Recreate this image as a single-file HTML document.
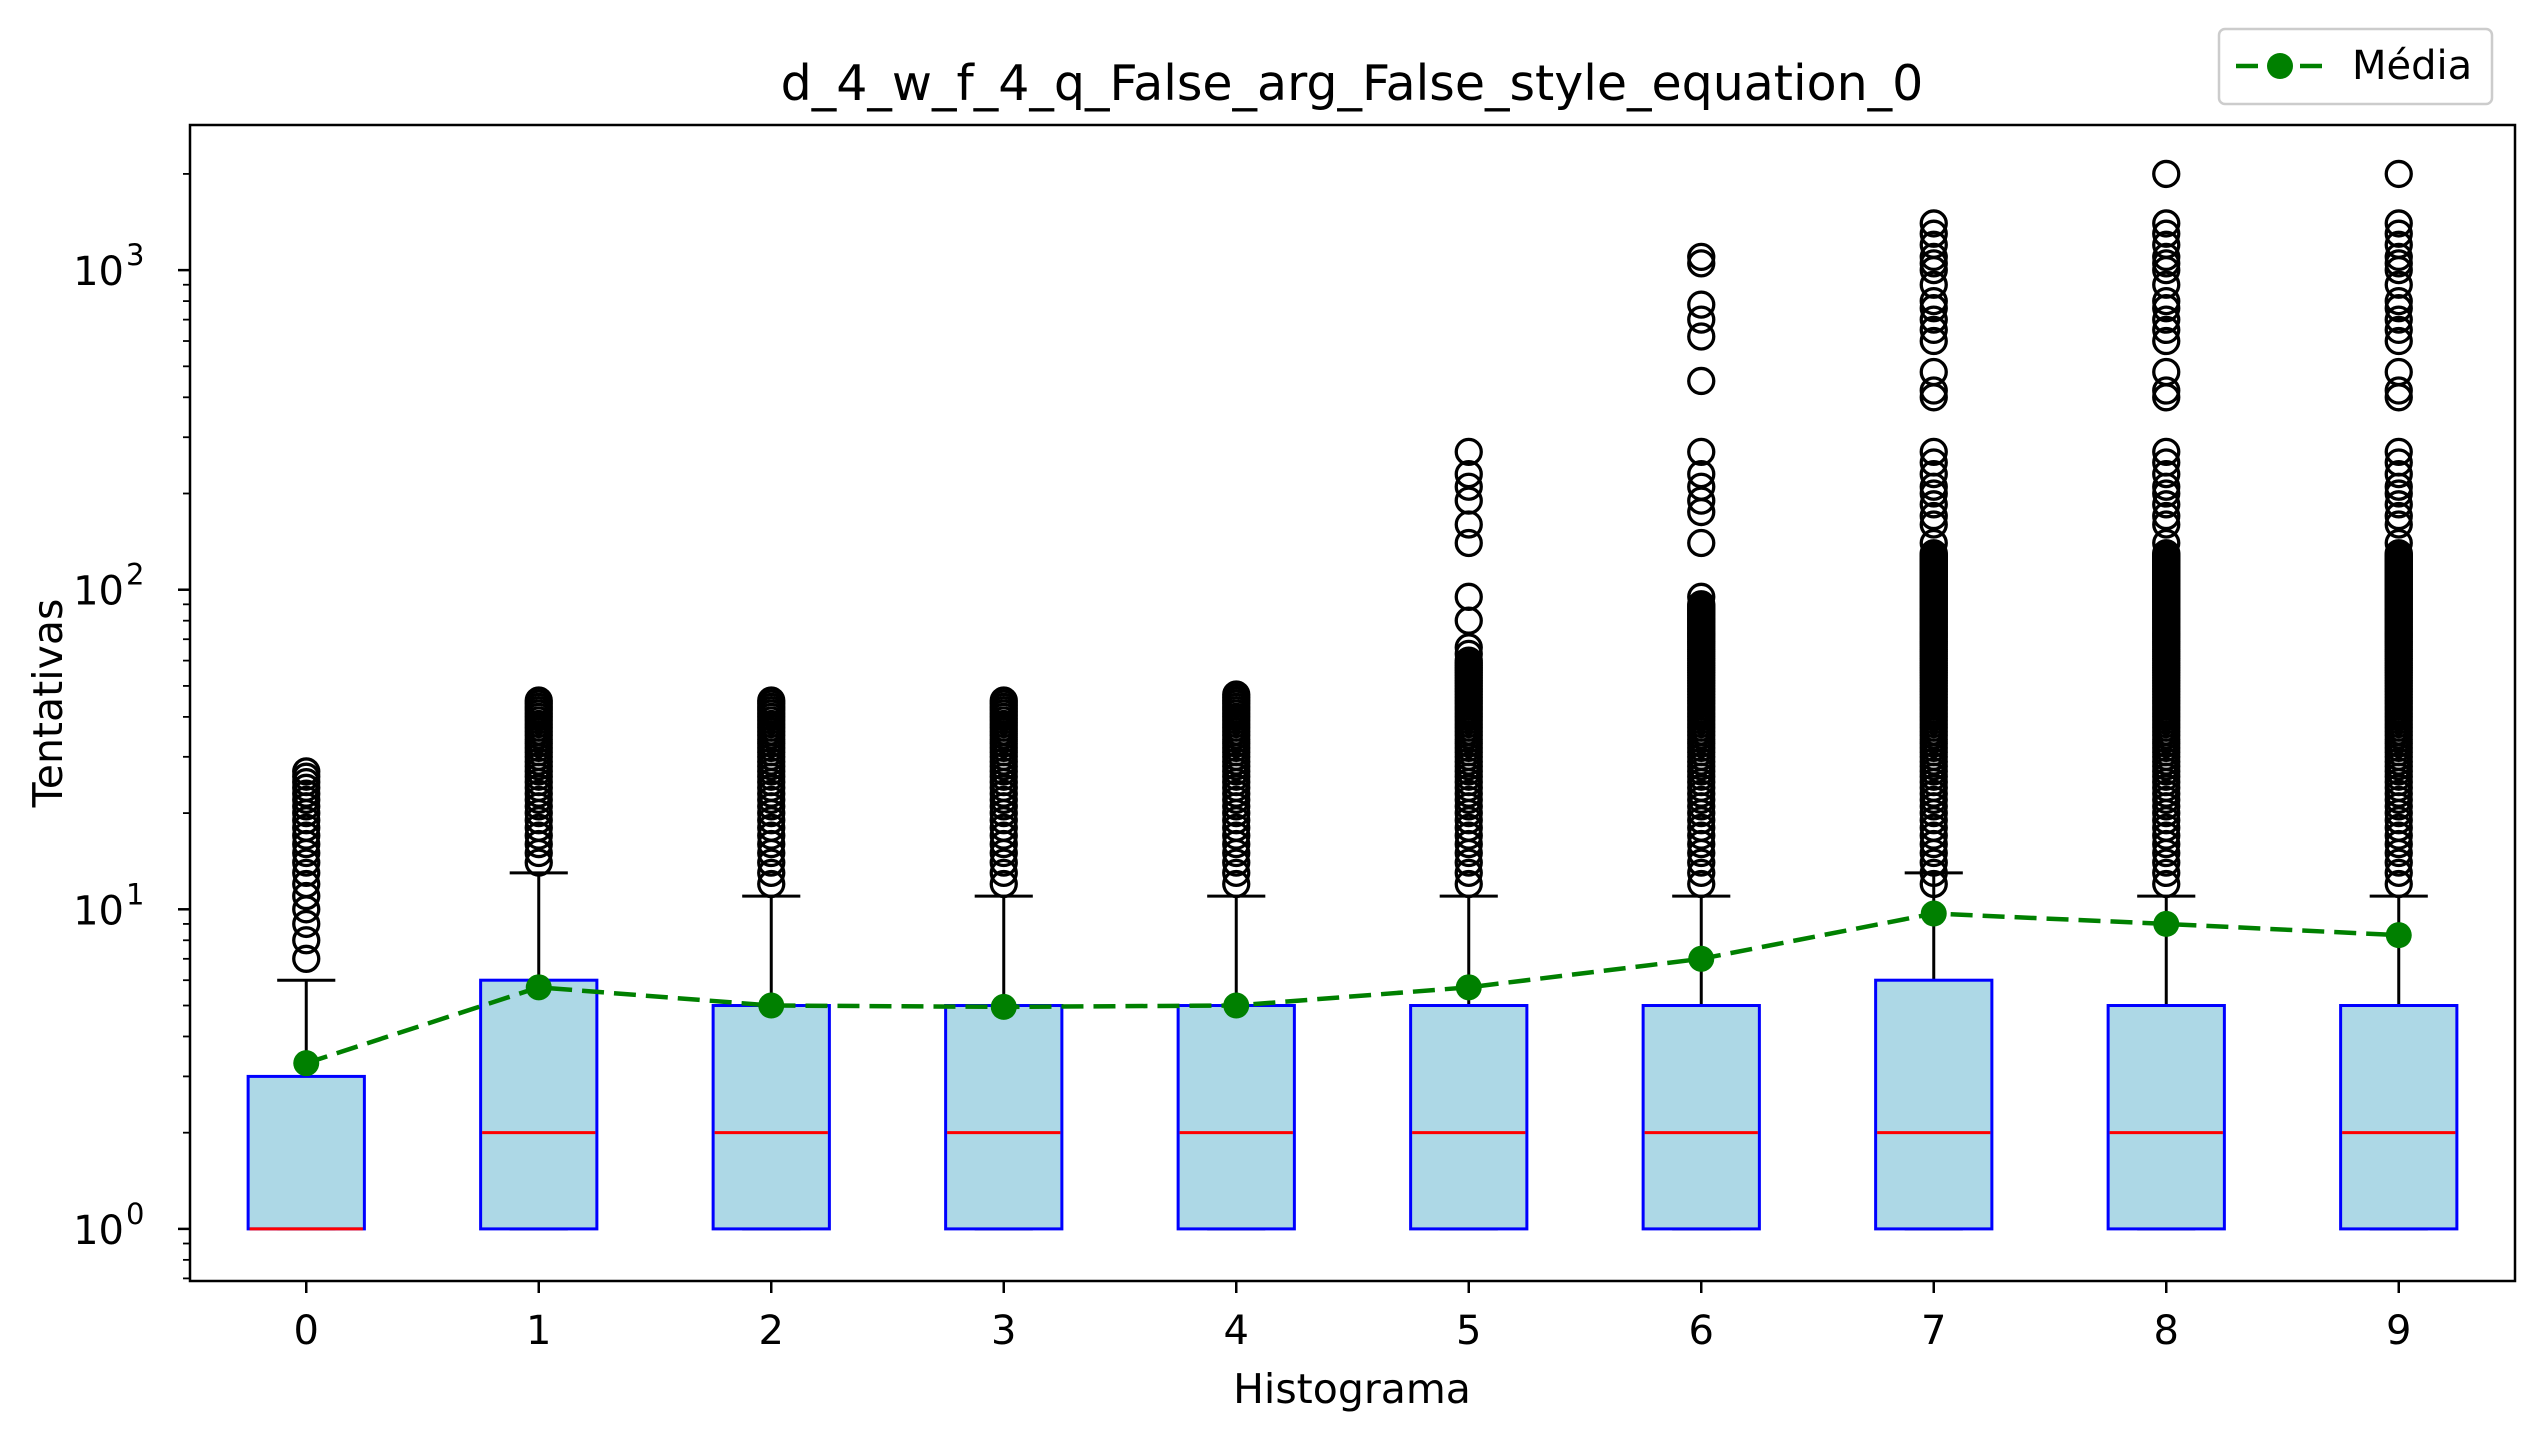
<!DOCTYPE html>
<html><head><meta charset="utf-8"><style>
html,body{margin:0;padding:0;background:#fff;}
svg{display:block;font-family:"DejaVu Sans","Liberation Sans",sans-serif;}
</style></head><body>
<svg id="chart" width="2544" height="1441" viewBox="0 0 2544 1441" xmlns="http://www.w3.org/2000/svg">
<rect width="2544" height="1441" fill="#fff"/>
<text x="1352" y="100" font-size="49" text-anchor="middle">d_4_w_f_4_q_False_arg_False_style_equation_0</text>
<text x="1352" y="1403" font-size="41" text-anchor="middle">Histograma</text>
<text x="62" y="703" font-size="41" text-anchor="middle" transform="rotate(-90 62 703)">Tentativas</text>
<g id="plot"></g>
<g>
<rect x="2219" y="29" width="273" height="75" rx="6" fill="#fff" stroke="#ccc" stroke-width="2.5"/>
<line x1="2236" y1="66" x2="2322" y2="66" stroke="#008000" stroke-width="4.5" stroke-dasharray="22,10"/>
<circle cx="2280" cy="66" r="13" fill="#008000"/>
<text x="2352" y="79" font-size="40">Média</text>
</g>
</svg>
<script>
const categories = ["0","1","2","3","4","5","6","7","8","9"];
const q1Values = [1,1,1,1,1,1,1,1,1,1];
const medianValues = [1,2,2,2,2,2,2,2,2,2];
const q3Values = [3,6,5,5,5,5,5,6,5,5];
const whiskerLow = [1,1,1,1,1,1,1,1,1,1];
const whiskerHigh = [6,13,11,11,11,11,11,13,11,11];
const meanValues = [3.3,5.7,5.0,4.95,5.0,5.7,7.0,9.7,9.0,8.3];
const yTickValues = [1,10,100,1000];
const yTickLabels = ["0","1","2","3"];
function range(a,b){const r=[];for(let i=a;i<=b;i++)r.push(i);return r;}
const fliers0 = [7,8,9,10,11,12,13,14,15,16,17,18,19,20,21,22,23,24,25,26,27];
const fliers1 = range(14,45);
const fliers2 = range(12,45);
const fliers3 = range(12,45);
const fliers4 = range(12,47);
const fliers5 = range(12,60).concat([63,66,80,95,140,160,190,210,230,270]);
const fliers6 = range(12,90).concat([95,140,175,190,210,230,270,450,620,700,780,1050,1100]);
const fliers7 = range(12,130).concat([140,160,170,185,200,210,230,250,270,400,420,480,600,650,700,760,800,900,1000,1050,1100,1200,1300,1400]);
const fliers8 = range(12,130).concat([140,160,170,185,200,210,230,250,270,400,420,480,600,650,700,760,800,900,1000,1050,1100,1200,1300,1400,2000]);
const fliers9 = range(12,130).concat([140,160,170,185,200,210,230,250,270,400,420,480,600,650,700,760,800,900,1000,1050,1100,1200,1300,1400,2000]);
const fliers = [fliers0,fliers1,fliers2,fliers3,fliers4,fliers5,fliers6,fliers7,fliers8,fliers9];

const L=190,R=2515,T=125,B=1281;
const yMin=0.687,yMax=2845;
function yPos(v){return B-(Math.log10(v)-Math.log10(yMin))/(Math.log10(yMax)-Math.log10(yMin))*(B-T);}
function xPos(i){return L+(i+0.5)/(categories.length)*(R-L);}
const NS="http://www.w3.org/2000/svg";
const g=document.getElementById('plot');
function mk(tag,attrs,parent){const e=document.createElementNS(NS,tag);for(const k in attrs)e.setAttribute(k,attrs[k]);(parent||g).appendChild(e);return e;}
const bw=(R-L)/categories.length*0.5;

categories.forEach((c,i)=>{
  const x=xPos(i);
  const grp=mk('g',{});
  
  
  const w1=mk('line',{x1:x,x2:x,y1:yPos(q3Values[i]),y2:yPos(whiskerHigh[i]),stroke:'#000','stroke-width':3},grp);
  
  
  const cap=mk('line',{x1:x-bw/4,x2:x+bw/4,y1:yPos(whiskerHigh[i]),y2:yPos(whiskerHigh[i]),stroke:'#000','stroke-width':3},grp);
  
  
  const cap2=mk('line',{x1:x-bw/4,x2:x+bw/4,y1:yPos(whiskerLow[i]),y2:yPos(whiskerLow[i]),stroke:'#000','stroke-width':3},grp);
  
  
  const box=mk('rect',{x:x-bw/2,y:yPos(q3Values[i]),width:bw,height:yPos(q1Values[i])-yPos(q3Values[i]),fill:'#add8e6',stroke:'#0000ff','stroke-width':3},grp);
  
  
  const med=mk('line',{x1:x-bw/2+1.5,x2:x+bw/2-1.5,y1:yPos(medianValues[i]),y2:yPos(medianValues[i]),stroke:'#ff0000','stroke-width':3},grp);
  
  
  fliers[i].forEach(v=>{
    const f=mk('circle',{cx:x,cy:yPos(v),r:12.5,fill:'none',stroke:'#000','stroke-width':3.3},grp);
    
    
  });
});
const pts=meanValues.map((v,i)=>xPos(i)+','+yPos(v)).join(' ');
const ml=mk('polyline',{points:pts,fill:'none',stroke:'#008000','stroke-width':4.5,'stroke-dasharray':'22,10'});


meanValues.forEach((v,i)=>{
  const m=mk('circle',{cx:xPos(i),cy:yPos(v),r:13,fill:'#008000'});
  
  
});
const fr=mk('rect',{x:L,y:T,width:R-L,height:B-T,fill:'none',stroke:'#000','stroke-width':2.5});


categories.forEach((c,i)=>{
  const x=xPos(i);
  const t=mk('line',{x1:x,x2:x,y1:B,y2:B+12,stroke:'#000','stroke-width':2.5});
  
  
  const tl=mk('text',{x:x,y:B+63,'font-size':40,'text-anchor':'middle'});
  tl.textContent=c;
  
  
});
yTickValues.forEach((v,i)=>{
  const y=yPos(v);
  const t=mk('line',{x1:L-12,x2:L,y1:y,y2:y,stroke:'#000','stroke-width':2.5});
  
  
  const tl=mk('text',{x:L-66,y:y+15,'font-size':40,'text-anchor':'end'});
  tl.textContent='10';
  
  
  const sup=mk('text',{x:L-64,y:y-5,'font-size':29,'text-anchor':'start'});
  sup.textContent=yTickLabels[i];
  
  
});
for(let d=-1;d<=3;d++){for(let m=2;m<=9;m++){const v=m*Math.pow(10,d);if(v<yMin||v>yMax)continue;const y=yPos(v);
  const t=mk('line',{x1:L-7,x2:L,y1:y,y2:y,stroke:'#000','stroke-width':1.8});
  
  }}
</script>
</body></html>
